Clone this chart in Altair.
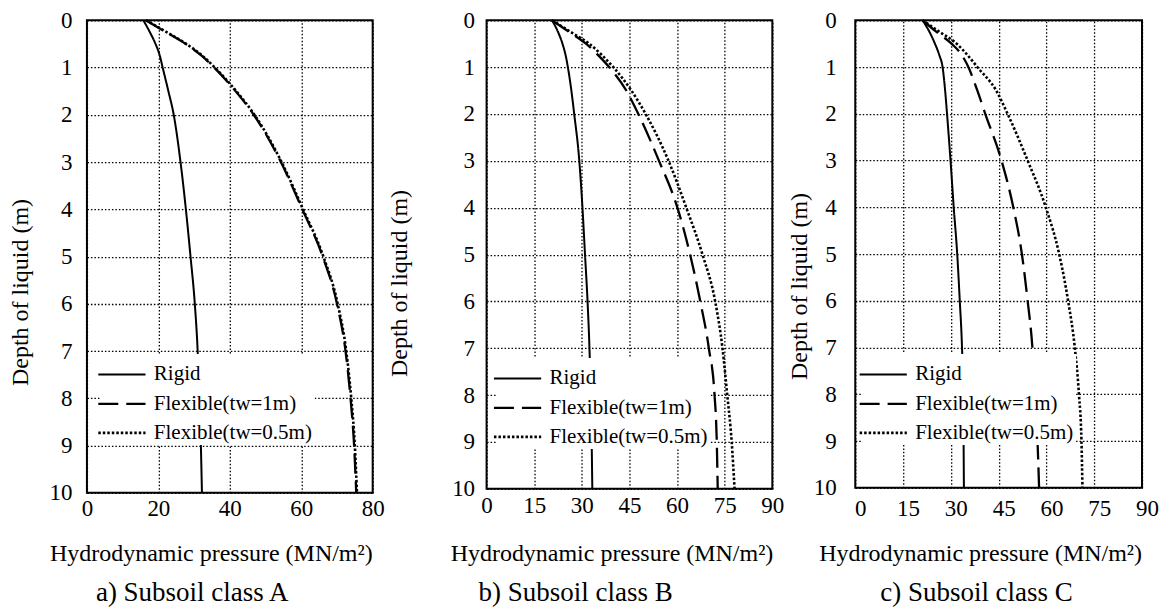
import altair as alt
import pandas as pd

# ---------------- data ----------------
depths = [0, 0.25, 0.5, 0.75, 1, 1.5, 2, 3, 4, 5, 6, 7, 8, 9, 10]
series_names = ["Rigid", "Flexible(tw=1m)", "Flexible(tw=0.5m)"]

a_rigid = [15.8, 17.6, 19.2, 20.4, 21.2, 22.8, 24.3, 26.2, 27.7, 29.0, 30.2, 31.0, 31.5, 31.9, 32.2]
a_flex1 = [16.5, 22.1, 27.6, 32.1, 35.6, 41.6, 46.7, 54.3, 60.3, 66.0, 70.0, 72.4, 73.8, 74.8, 75.4]
a_flex05 = [16.5, 22.3, 27.8, 32.3, 35.8, 41.8, 46.9, 54.5, 60.5, 66.2, 70.2, 72.6, 74.0, 75.0, 75.6]

b_rigid = [20.6, 22.5, 23.9, 24.9, 25.6, 26.7, 27.6, 29.2, 30.2, 31.0, 31.8, 32.4, 32.8, 33.1, 33.3]
b_flex1 = [20.6, 26.0, 31.3, 35.2, 38.6, 44.0, 47.8, 54.3, 60.1, 64.1, 67.3, 70.0, 71.8, 72.5, 72.8]
b_flex05 = [20.6, 26.5, 32.3, 36.4, 39.9, 45.6, 50.1, 57.3, 62.9, 68.0, 72.0, 74.3, 75.8, 77.2, 78.1]

c_rigid = [21.1, 23.3, 25.0, 26.4, 27.4, 28.2, 28.8, 29.9, 30.9, 32.0, 32.8, 33.5, 33.9, 34.0, 34.1]
c_flex1 = [21.1, 25.5, 30.2, 33.5, 35.5, 38.3, 40.8, 45.9, 49.6, 52.3, 54.1, 55.6, 56.5, 57.2, 57.7]
c_flex05 = [21.1, 26.5, 31.8, 35.3, 38.3, 44.2, 47.8, 54.1, 59.8, 64.0, 66.8, 68.9, 70.2, 71.0, 71.3]

a_ticks = [0, 20, 40, 60, 80]
bc_ticks = [0, 15, 30, 45, 60, 75, 90]
depth_ticks = [0, 1, 2, 3, 4, 5, 6, 7, 8, 9, 10]

captions = ["a) Subsoil class A", "b) Subsoil class B", "c) Subsoil class C"]
x_title = "Hydrodynamic pressure (MN/m\u00b2)"
y_title = "Depth of liquid (m)"

FONT = "Liberation Serif"


def make_df(rigid, flex1, flex05):
    rows = []
    for name, vals in zip(series_names, [rigid, flex1, flex05]):
        for d, v in zip(depths, vals):
            rows.append({"series": name, "depth": d, "pressure": v})
    return pd.DataFrame(rows)


def panel(df, ticks, width, height, ylabpad, ytx, yty, xlabpad, xlaboff,
          xtx, xty, caption, cap_dx, leg_x, leg_y):
    xmax = ticks[-1]
    return (
        alt.Chart(df)
        .mark_line(color="black", interpolate="monotone")
        .encode(
            x=alt.X(
                "pressure:Q",
                scale=alt.Scale(domain=[0, xmax], nice=False, zero=True),
                axis=alt.Axis(
                    values=ticks,
                    title=x_title,
                    titleX=xtx,
                    titleY=xty,
                    titleBaseline="middle",
                    titleAlign="center",
                    labelPadding=xlabpad,
                    labelOffset=xlaboff,
                    labelFont=FONT,
                    titleFont=FONT,
                ),
            ),
            y=alt.Y(
                "depth:Q",
                scale=alt.Scale(domain=[0, 10], reverse=True, nice=False),
                axis=alt.Axis(
                    values=depth_ticks,
                    title=y_title,
                    titleX=ytx,
                    titleY=yty,
                    titleAngle=270,
                    titleBaseline="middle",
                    titleAlign="center",
                    labelPadding=ylabpad,
                    labelFont=FONT,
                    titleFont=FONT,
                ),
            ),
            strokeDash=alt.StrokeDash(
                "series:N",
                title=None,
                scale=alt.Scale(
                    domain=series_names,
                    range=[[1, 0], [20, 8], [2.5, 2]],
                ),
                legend=alt.Legend(orient="none", legendX=leg_x, legendY=leg_y,
                                  labelFont=FONT),
            ),
            strokeWidth=alt.StrokeWidth(
                "series:N",
                scale=alt.Scale(domain=series_names, range=[2.0, 2.6, 2.8]),
                legend=None,
            ),
            order=alt.Order("depth:Q"),
        )
        .properties(
            width=width,
            height=height,
            title=alt.TitleParams(
                text=caption,
                orient="bottom",
                anchor="start",
                frame="group",
                dx=cap_dx,
                offset=14,
                font=FONT,
                fontSize=27,
                fontWeight="normal",
                color="black",
            ),
        )
    )


pa = panel(make_df(a_rigid, a_flex1, a_flex05), a_ticks, 286, 473,
           15, -66, 272, 5, 0, 124, 61, captions[0], 9, 14, 334)
pb = panel(make_df(b_rigid, b_flex1, b_flex05), bc_ticks, 286, 469,
           12, -87, 263, 6, 0, 125, 65, captions[1], -8, 10, 338)
pc = panel(make_df(c_rigid, c_flex1, c_flex05), bc_ticks, 287, 468,
           19, -56, 266, 10, 5, 125, 66, captions[2], 25, 7, 334)

chart = (
    alt.hconcat(pa, pb, pc, spacing=1)
    .resolve_scale(strokeDash="independent", strokeWidth="independent")
    .resolve_legend(strokeDash="independent")
    .properties(padding={"left": 0, "top": 0, "right": 0, "bottom": 0})
    .configure(font=FONT)
    .configure_view(stroke="black", strokeWidth=2)
    .configure_axis(
        labelFont=FONT,
        labelFontSize=23,
        labelColor="black",
        labelFlush=False,
        titleFont=FONT,
        titleFontSize=24,
        titleFontWeight="normal",
        titleColor="black",
        grid=True,
        gridColor="black",
        gridDash=[1.5, 2],
        gridWidth=1.3,
        gridOpacity=1,
        domain=False,
        ticks=False,
        tickSize=0,
    )
    .configure_legend(
        symbolType="M-1.35,0H1.35",
        symbolSize=1225,
        symbolStrokeWidth=2.4,
        symbolStrokeColor="black",
        labelFont=FONT,
        labelFontSize=21,
        labelColor="black",
        labelOffset=13,
        labelLimit=400,
        rowPadding=0,
        padding=2,
        fillColor="white",
    )
)

chart.save("out.html", embed_options={"renderer": "svg", "actions": False})
